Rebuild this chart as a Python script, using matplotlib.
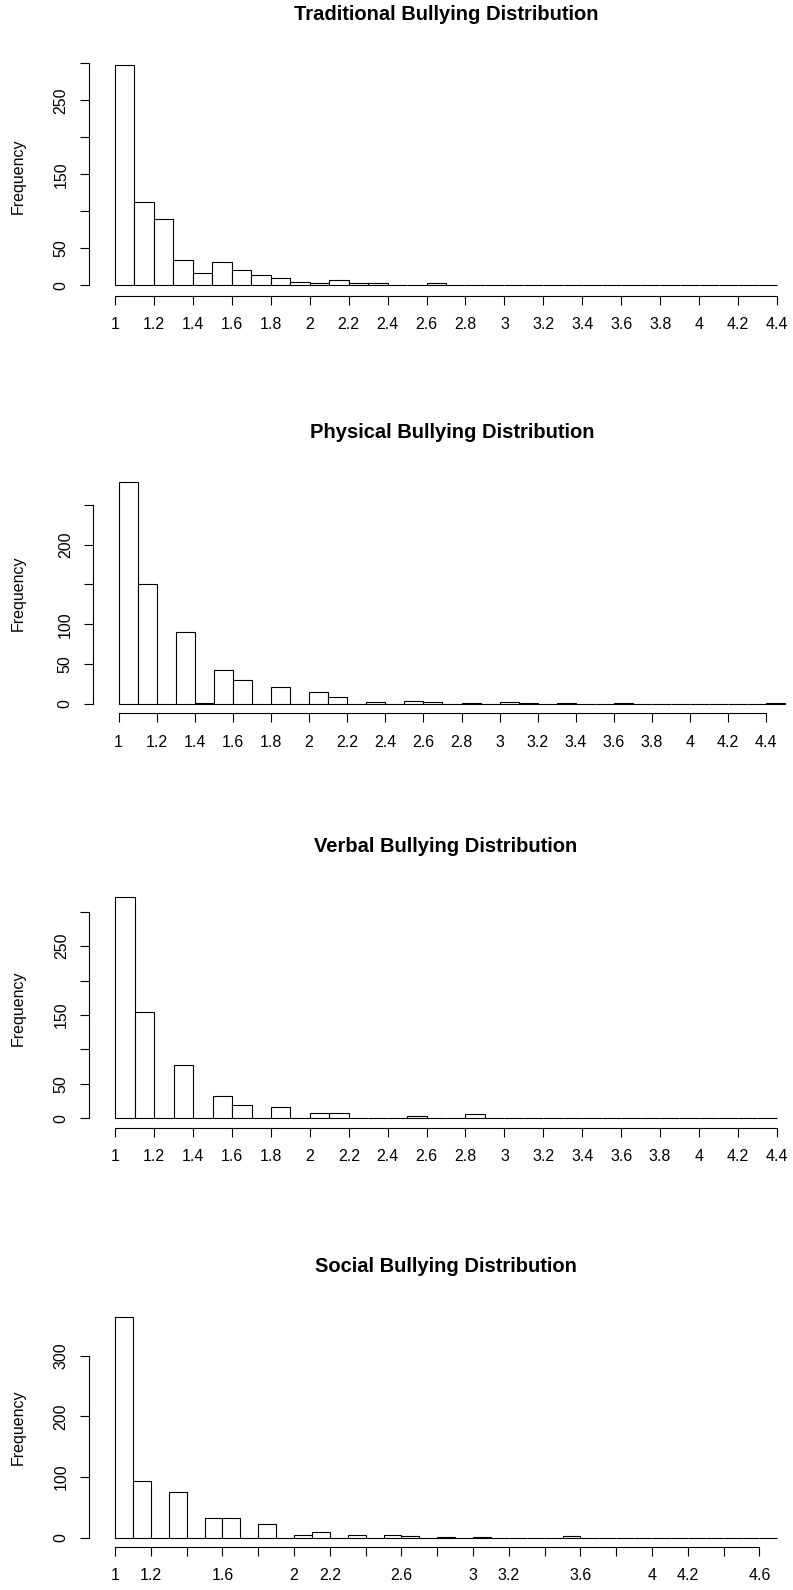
import numpy as np
import matplotlib
matplotlib.use("Agg")
import matplotlib.pyplot as plt

plt.rcParams["font.family"] = ["Liberation Sans", "DejaVu Sans"]

# histogram counts, one bin per 0.1 starting at 1.0
BIN_START = 1.0
BIN_WIDTH = 0.1

traditional_counts = [298, 113, 90, 34, 17, 31, 21, 14, 10, 4,
                      3, 7, 3, 3, 1, 1, 3, 1, 1, 0,
                      1, 1, 1, 1, 0, 0, 0, 1, 0, 1,
                      0, 0, 0, 1]
physical_counts = [279, 151, 0, 90, 1, 43, 30, 0, 21, 0,
                   15, 9, 0, 3, 0, 4, 3, 0, 1, 0,
                   3, 1, 0, 1, 0, 0, 1, 0, 0, 0,
                   0, 0, 0, 0, 1]
verbal_counts = [321, 155, 1, 78, 0, 32, 20, 0, 17, 0,
                 7, 7, 0, 0, 0, 3, 1, 0, 6, 0,
                 1, 0, 0, 0, 0, 1, 0, 0, 0, 0,
                 0, 0, 0, 0]
social_counts = [364, 93, 0, 75, 0, 33, 32, 0, 22, 0,
                 5, 10, 0, 5, 0, 4, 3, 0, 1, 0,
                 1, 0, 0, 0, 0, 3, 0, 0, 0, 0,
                 0, 0, 0, 0, 0, 0, 0]

titles = ["Traditional Bullying Distribution", "Physical Bullying Distribution",
          "Verbal Bullying Distribution", "Social Bullying Distribution"]

x_ticks_short = [1.0, 1.2, 1.4, 1.6, 1.8, 2.0, 2.2, 2.4, 2.6, 2.8,
                 3.0, 3.2, 3.4, 3.6, 3.8, 4.0, 4.2, 4.4]
x_labels_short = ["1", "1.2", "1.4", "1.6", "1.8", "2", "2.2", "2.4", "2.6", "2.8",
                  "3", "3.2", "3.4", "3.6", "3.8", "4", "4.2", "4.4"]
x_ticks_social = x_ticks_short + [4.6]
x_labels_social = ["1", "1.2", "", "1.6", "", "2", "2.2", "", "2.6", "",
                   "3", "3.2", "", "3.6", "", "4", "4.2", "", "4.6"]

y_ticks_300 = [0, 50, 100, 150, 200, 250, 300]
y_labels_300 = ["0", "50", "", "150", "", "250", ""]
y_ticks_250 = [0, 50, 100, 150, 200, 250]
y_labels_250 = ["0", "50", "100", "", "200", ""]
y_ticks_social = [0, 100, 200, 300]
y_labels_social = ["0", "100", "200", "300"]

W, H = 793, 1590
fig = plt.figure(figsize=(W / 100, H / 100), dpi=100)

# pixel layout of each panel: left, right, top, bottom, px of x=1, px per x unit,
# px of y=0, px per count
panels = [
    (traditional_counts, 88.5, 803.5, 56, 295.7, 115.0, 194.7, 285.3, 0.740,
     x_ticks_short, x_labels_short, y_ticks_300, y_labels_300),
    (physical_counts, 93.0, 812.0, 473, 713.3, 118.6, 190.5, 704.0, 0.7967,
     x_ticks_short, x_labels_short, y_ticks_250, y_labels_250),
    (verbal_counts, 89.0, 803.0, 888, 1127.7, 115.4, 194.5, 1118.3, 0.689,
     x_ticks_short, x_labels_short, y_ticks_300, y_labels_300),
    (social_counts, 88.5, 803.8, 1308, 1546.7, 115.0, 179.0, 1537.6, 0.6056,
     x_ticks_social, x_labels_social, y_ticks_social, y_labels_social),
]

for title, (counts, left, right, top, bottom, x1, xppu, y0, yppu,
            xt, xl, yt, yl) in zip(titles, panels):
    ax = fig.add_axes([left / W, 1 - bottom / H, (right - left) / W, (bottom - top) / H])
    ax.set_xlim(1 + (left - x1) / xppu, 1 + (right - x1) / xppu)
    ax.set_ylim((y0 - bottom) / yppu, (y0 - top) / yppu)

    starts = BIN_START + BIN_WIDTH * np.arange(len(counts))
    ax.bar(starts, counts, width=BIN_WIDTH, align="edge", facecolor="white",
           edgecolor="black", linewidth=0.8, clip_on=False)

    for side in ("top", "right"):
        ax.spines[side].set_visible(False)
    ax.spines["left"].set_bounds(yt[0], yt[-1])
    ax.spines["bottom"].set_bounds(xt[0], xt[-1])
    for side in ("left", "bottom"):
        ax.spines[side].set_linewidth(0.8)

    ax.set_xticks(xt)
    ax.set_xticklabels(xl, fontsize=11.5)
    ax.set_yticks(yt)
    ax.set_yticklabels(yl, fontsize=11.5, rotation=90, va="center")
    ax.tick_params(axis="both", direction="out", length=6.5, width=0.8)
    ax.tick_params(axis="x", pad=9)
    ax.tick_params(axis="y", pad=8)

    fig.text((left + right) / 2 / W, 1 - (top - 41) / H, title, ha="center",
             va="center", fontsize=14.5, fontweight="bold")
    fig.text(18 / W, 1 - (top + bottom) / 2 / H, "Frequency", rotation=90,
             ha="center", va="center", fontsize=11.5)

fig.savefig("out.png", dpi=100)
